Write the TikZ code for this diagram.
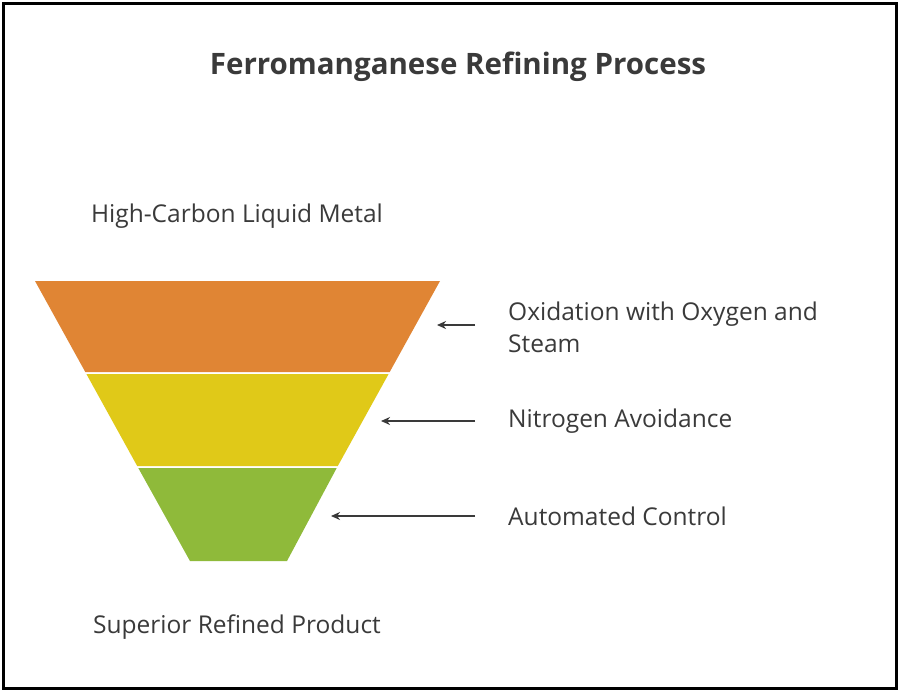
\documentclass[tikz,border=0pt]{standalone}
\usepackage{fontspec}
\setmainfont{Open Sans}
\usetikzlibrary{arrows.meta}
\definecolor{txt}{HTML}{3A3A3A}
\definecolor{orn}{HTML}{E08534}
\definecolor{yel}{HTML}{E0C918}
\definecolor{grn}{HTML}{8FBA3A}
\begin{document}
\begin{tikzpicture}[x=1pt,y=-1pt,
 lbl/.style={text=txt,font=\fontsize{24.5}{32}\selectfont,inner sep=0pt},
 arr/.style={-{Stealth[length=9pt,width=8pt]},line width=1.8pt,draw=txt},
 band/.style={draw=none}]
\useasboundingbox (0,0) rectangle (900,691);
\fill[white] (0,0) rectangle (900,691);
\draw[line width=3pt] (3,3) rectangle (896,688);
\node[lbl,font=\bfseries\fontsize{29.5}{36}\selectfont] (title) at (458,67) {Ferromanganese Refining Process};
\node[lbl] (top) at (237,216) {High-Carbon Liquid Metal};
\node[lbl] (bot) at (237,627) {Superior Refined Product};
\fill[orn] (35,281) -- (440,281) -- (389.7,372) -- (85.3,372) -- cycle;
\fill[yel] (86.4,374) -- (388.6,374) -- (337.8,466) -- (137.2,466) -- cycle;
\fill[grn] (138.3,468) -- (336.7,468) -- (287,561) -- (190,561) -- cycle;
\coordinate (o) at (437,325); \coordinate (y) at (381,421); \coordinate (g) at (331,516);
\coordinate (oa) at (475,325); \coordinate (ya) at (475,421); \coordinate (ga) at (475,516);
\draw[arr] (oa) -- (o);
\draw[arr] (ya) -- (y);
\draw[arr] (ga) -- (g);
\node[lbl,anchor=west,align=left] (l1) at (508,327) {Oxidation with Oxygen and\\Steam};
\node[lbl,anchor=west] (l2) at (508,421) {Nitrogen Avoidance};
\node[lbl,anchor=west] (l3) at (508,516) {Automated Control};
\end{tikzpicture}
\end{document}
